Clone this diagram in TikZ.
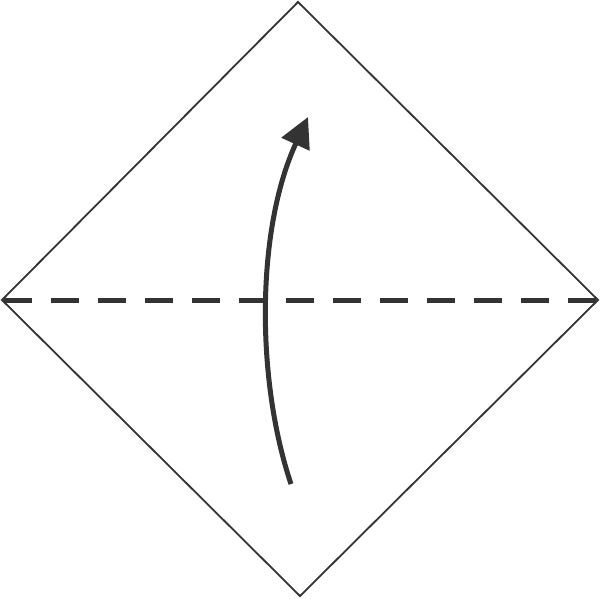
\documentclass[tikz,border=0pt]{standalone}
\usepackage{tikz}
\usetikzlibrary{arrows.meta}
\definecolor{ink}{HTML}{333333}

\begin{document}
\begin{tikzpicture}[x=1pt,y=-1pt,
	paper/.style={draw=ink,line width=1.8pt,line join=miter},
	valley/.style={draw=ink,line width=5pt,dash pattern=on 28pt off 19pt,dash phase=-2pt},
	foldarrow/.style={draw=ink,line width=5pt,-{Triangle[length=30pt,width=30pt]}}]
	\useasboundingbox (0,0) rectangle (600,598);
	
	\coordinate (top) at (298,2);
	\coordinate (left) at (2,300);
	\coordinate (bottom) at (300,596);
	\coordinate (right) at (598,300);
	
	\draw[paper] (top) -- (left) -- (bottom) -- (right) -- cycle;
	
	\draw[valley] (left) -- (right);
	
	\draw[foldarrow] (291,484) .. controls (256,380) and (256,230) .. (308,117);
	\end{tikzpicture}
\end{document}
